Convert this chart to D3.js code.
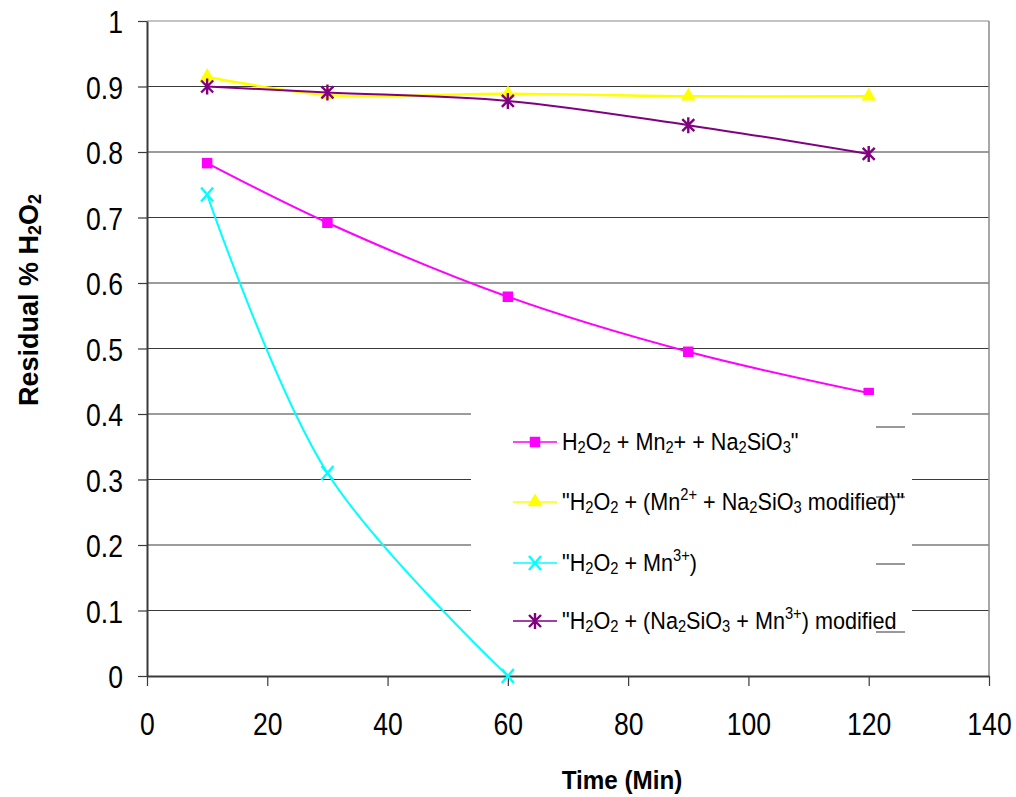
<!DOCTYPE html>
<html>
<head>
<meta charset="utf-8">
<script src="https://cdn.jsdelivr.net/npm/d3@7"></script>
<style>
  body { margin: 0; background: #fff; }
  svg { display: block; }
</style>
</head>
<body>
<div id="chart"></div>
<script>
// data
let times = [10, 30, 60, 90, 120]
let mnSilicate = [0.783, 0.692, 0.579, 0.495, 0.432]
let mnSilicateModified = [0.915, 0.887, 0.889, 0.885, 0.885]
let mn3Times = [10, 30, 60]
let mn3 = [0.735, 0.31, 0]
let silicateMn3Modified = [0.9, 0.891, 0.878, 0.841, 0.797]

let xTickValues = [0, 20, 40, 60, 80, 100, 120, 140]
let yTickValues = [0, 0.1, 0.2, 0.3, 0.4, 0.5, 0.6, 0.7, 0.8, 0.9, 1]

// legend texts: [text, "n" | "sub" | "sup"]
let legendLabels = [
    [["H", "n"], ["2", "sub"], ["O", "n"], ["2", "sub"], [" + Mn", "n"], ["2", "sub"], ["+ + Na", "n"], ["2", "sub"], ["SiO", "n"], ["3", "sub"], ["\"", "n"]],
    [["\"H", "n"], ["2", "sub"], ["O", "n"], ["2", "sub"], [" + (Mn", "n"], ["2+", "sup"], [" + Na", "n"], ["2", "sub"], ["SiO", "n"], ["3", "sub"], [" modified)\"", "n"]],
    [["\"H", "n"], ["2", "sub"], ["O", "n"], ["2", "sub"], [" + Mn", "n"], ["3+", "sup"], [")", "n"]],
    [["\"H", "n"], ["2", "sub"], ["O", "n"], ["2", "sub"], [" + (Na", "n"], ["2", "sub"], ["SiO", "n"], ["3", "sub"], [" + Mn", "n"], ["3+", "sup"], [") modified", "n"]]
]

let series = [
    { x: times, y: mnSilicate, color: "#FF00FF", marker: "square" },
    { x: times, y: mnSilicateModified, color: "#FFFF00", marker: "triangle" },
    { x: mn3Times, y: mn3, color: "#00FFFF", marker: "x" },
    { x: times, y: silicateMn3Modified, color: "#800080", marker: "star" }
]

let width = 1016
let height = 797
let margin = { left: 147, right: 27, top: 21, bottom: 121 }

let svg = d3.select("#chart").append("svg")
    .attr("width", width)
    .attr("height", height)
    .style("background", "white")

let x = d3.scaleLinear().domain([0, 140]).range([margin.left, width - margin.right])
let y = d3.scaleLinear().domain([0, 1]).range([height - margin.bottom, margin.top])

// grid
svg.append("g")
    .selectAll("line")
    .data(yTickValues.slice(1))
    .join("line")
    .attr("x1", x(0)).attr("x2", x(140))
    .attr("y1", d => y(d)).attr("y2", d => y(d))
    .attr("stroke", d => d === 1 ? "#8a8a8a" : "#3a3a3a")
    .attr("stroke-width", 1.2)

svg.append("line")
    .attr("x1", x(140)).attr("x2", x(140))
    .attr("y1", y(1)).attr("y2", y(0))
    .attr("stroke", "#8a8a8a").attr("stroke-width", 1.5)

// axes
let xAxis = svg.append("g")
    .attr("transform", `translate(0,${y(0)})`)
    .call(d3.axisBottom(x).tickValues(xTickValues).tickSize(10).tickSizeOuter(0).tickFormat(d => d))
let yAxis = svg.append("g")
    .attr("transform", `translate(${x(0)},0)`)
    .call(d3.axisLeft(y).tickValues(yTickValues).tickSize(9).tickSizeOuter(0).tickFormat(d => d))

for (let ax of [xAxis, yAxis]) {
    ax.select(".domain").attr("stroke", "#3a3a3a").attr("stroke-width", 2)
    ax.selectAll(".tick line").attr("stroke", "#3a3a3a").attr("stroke-width", 1.2)
    ax.selectAll("text")
        .attr("font-family", "Liberation Sans, Arial, sans-serif")
        .attr("font-size", 32)
        .attr("fill", "#000")
}
xAxis.selectAll("text").attr("y", 0).attr("dy", 0)
    .attr("transform", "translate(0,59) scale(0.83,1)")
yAxis.selectAll("text").attr("x", 0).attr("dy", "0.36em")
    .attr("transform", "translate(-24,0) scale(0.83,1)")

// lines
let line = d3.line()
    .x(d => x(d[0]))
    .y(d => y(d[1]))
    .curve(d3.curveCatmullRom.alpha(0.5))

function markerPath(type) {
    if (type === "square") return d3.symbol(d3.symbolSquare, 110)()
    if (type === "triangle") return d3.symbol(d3.symbolTriangle, 95)()
    if (type === "x") return "M-6,-7L6,7M-6,7L6,-7"
    return "M-6,-6L6,6M-6,6L6,-6M0,-8L0,8"
}

function drawMarker(g, type, color) {
    let filled = type === "square" || type === "triangle"
    g.append("path")
        .attr("d", markerPath(type))
        .attr("fill", filled ? color : "none")
        .attr("stroke", color)
        .attr("stroke-width", filled ? 0 : 2.4)
}

series.forEach(s => {
    let pts = s.x.map((t, i) => [t, s.y[i]])
    svg.append("path")
        .datum(pts)
        .attr("d", line)
        .attr("fill", "none")
        .attr("stroke", s.color)
        .attr("stroke-width", s.marker === "triangle" ? 2.6 : 2)
    svg.append("g")
        .selectAll("g")
        .data(pts)
        .join("g")
        .attr("transform", d => `translate(${x(d[0])},${y(d[1])})`)
        .each(function () { drawMarker(d3.select(this), s.marker, s.color) })
})

// legend
svg.append("rect")
    .attr("x", 471).attr("y", 395)
    .attr("width", 441).attr("height", 238)
    .attr("fill", "white")

svg.append("g")
    .selectAll("line")
    .data([427, 497, 564, 632])
    .join("line")
    .attr("x1", 876).attr("x2", 905)
    .attr("y1", d => d).attr("y2", d => d)
    .attr("stroke", "#555").attr("stroke-width", 1.2)

let legendRows = [442, 502, 563, 621]
legendLabels.forEach((lab, i) => {
    let s = series[i]
    let g = svg.append("g").attr("transform", `translate(0,${legendRows[i]})`)
    g.append("line")
        .attr("x1", 513).attr("x2", 557)
        .attr("stroke", s.color).attr("stroke-width", 1.5)
    let mg = g.append("g").attr("transform", "translate(535,0)")
    drawMarker(mg, s.marker, s.color)

    let t = g.append("text")
        .attr("transform", "translate(562,8) scale(0.92,1)")
        .attr("font-family", "Liberation Sans, Arial, sans-serif")
        .attr("font-size", 23.5)
        .attr("fill", "#000")
    let shift = 0
    lab.forEach(([txt, kind]) => {
        let target = kind === "sub" ? 3 : kind === "sup" ? -10 : 0
        t.append("tspan")
            .attr("dy", target - shift)
            .attr("font-size", kind === "n" ? 23.5 : 16)
            .text(txt)
        shift = target
    })
})

// axis titles
svg.append("text")
    .attr("transform", "translate(622,789) scale(0.97,1)")
    .attr("text-anchor", "middle")
    .attr("font-family", "Liberation Sans, Arial, sans-serif")
    .attr("font-weight", "bold")
    .attr("font-size", 25)
    .text("Time (Min)")

let yt = svg.append("text")
    .attr("transform", "translate(38,300) rotate(-90)")
    .attr("text-anchor", "middle")
    .attr("font-family", "Liberation Sans, Arial, sans-serif")
    .attr("font-weight", "bold")
    .attr("font-size", 27)
yt.append("tspan").text("Residual % H")
yt.append("tspan").attr("dy", 3).attr("font-size", 18).text("2")
yt.append("tspan").attr("dy", -3).text("O")
yt.append("tspan").attr("dy", 3).attr("font-size", 18).text("2")
</script>
</body>
</html>
